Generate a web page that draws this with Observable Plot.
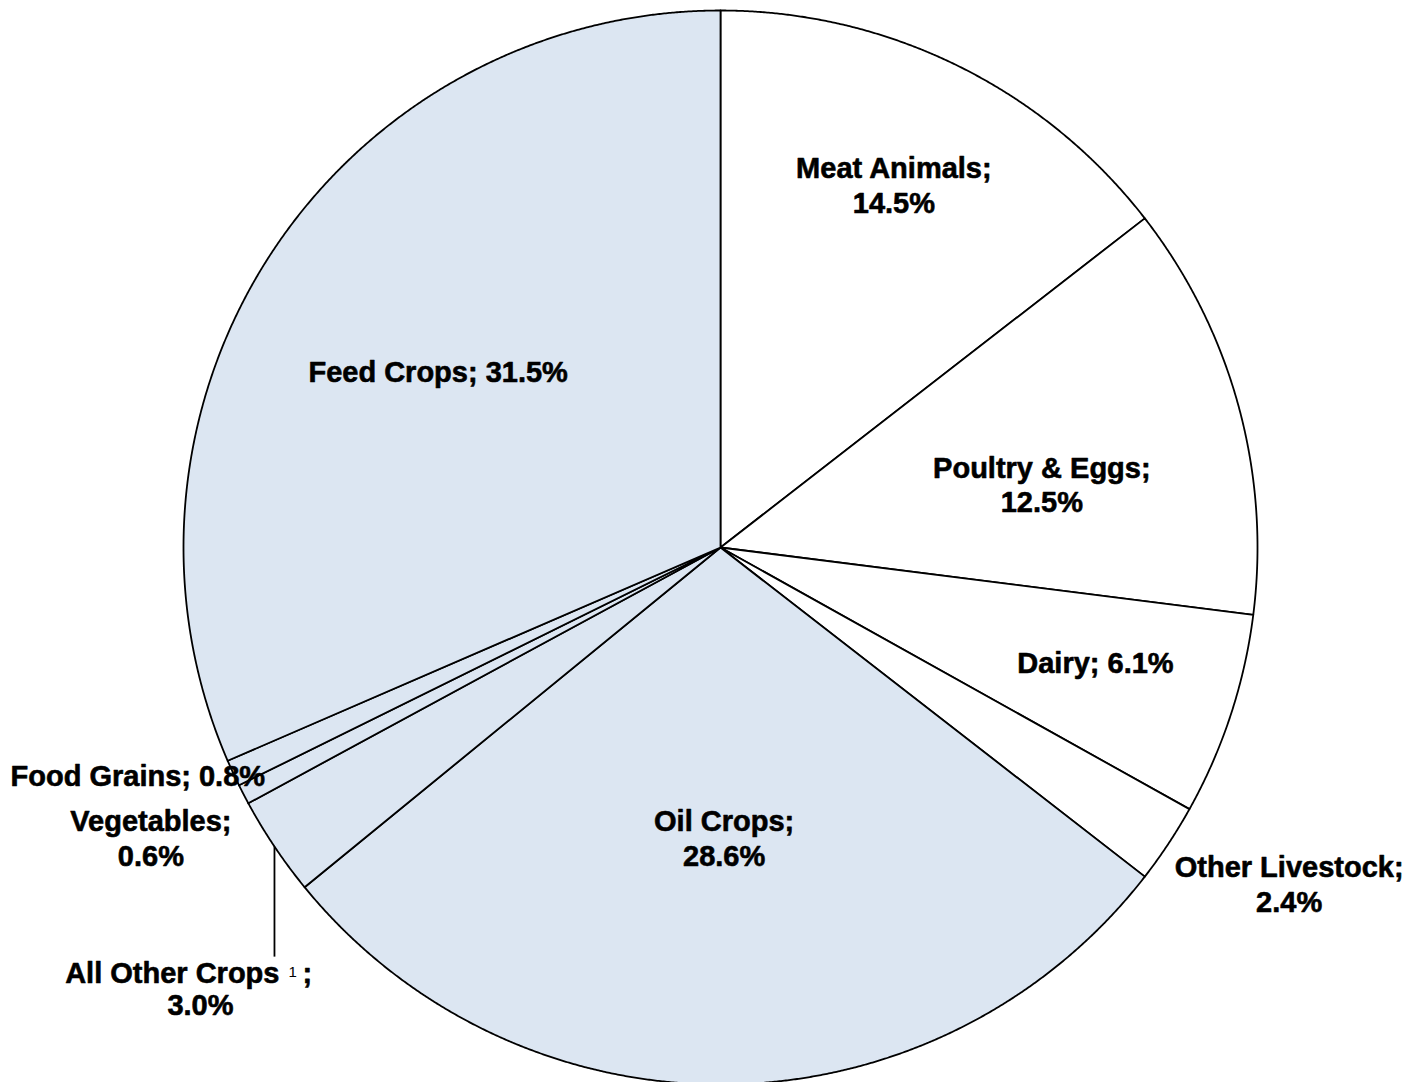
<!DOCTYPE html>
<html><head><meta charset="utf-8">
<script src="https://cdn.jsdelivr.net/npm/d3@7"></script>
<script src="https://cdn.jsdelivr.net/npm/@observablehq/plot@0.6"></script>
<style>body{margin:0;background:#fff;overflow:hidden;} svg text{font-family:"Liberation Sans", Arial, sans-serif;}</style>
</head><body><div id="chart"></div>
<script>
// ---- data ----
const categories = ["Meat Animals","Poultry & Eggs","Dairy","Other Livestock","Oil Crops","All Other Crops","Vegetables","Food Grains","Feed Crops"];
const shares = [14.5,12.5,6.1,2.4,28.6,3.0,0.6,0.8,31.5];
const groups = ["Livestock","Livestock","Livestock","Livestock","Crops","Crops","Crops","Crops","Crops"];
const groupColors = {Livestock:"#ffffff", Crops:"#dce6f2"};
const twoLine = [true,true,false,true,true,true,true,false,false];
// label placement (polar): radius factor and angle shift in degrees
const labelRadius = [0.75,0.61,0.73,1.23,0.54,null,1.19,1.165,0.62];
const labelShift = [-0.6,4.1,-1.2,-2.9,0,0,0.4,3.5,-1.3];

// ---- geometry ----
const W = 1419, H = 1082, CX = 720, CY = 547, R = 537;
const xDomain = [(0 - CX) / R, (W - CX) / R];
const yDomain = [(CY - H) / R, (CY - 0) / R];

const arcs = d3.pie().sort(null).value(d => d)(shares);
const polys = [];
arcs.forEach((a, i) => {
  const name = categories[i];
  const color = groupColors[groups[i]];
  polys.push({name, color, x: 0, y: 0});
  const n = Math.max(2, Math.ceil((a.endAngle - a.startAngle) / 0.003));
  for (let k = 0; k <= n; k++) {
    const t = a.startAngle + (a.endAngle - a.startAngle) * k / n;
    polys.push({name, color, x: Math.sin(t), y: Math.cos(t)});
  }
  polys.push({name, color, x: 0, y: 0});
});

const labels = [];
arcs.forEach((a, i) => {
  if (labelRadius[i] == null) return;
  const mid = (a.startAngle + a.endAngle) / 2 + labelShift[i] * Math.PI / 180;
  const r = labelRadius[i];
  const text = categories[i] + ";" + (twoLine[i] ? "\n" : " ") + shares[i].toFixed(1) + "%";
  labels.push({x: r * Math.sin(mid), y: r * Math.cos(mid), text});
});

// leader line for All Other Crops
const ai = categories.indexOf("All Other Crops");
const am = (arcs[ai].startAngle + arcs[ai].endAngle) / 2;
const lx = Math.sin(am), ly = Math.cos(am);
const leader = [{x1: lx, y1: ly, x2: lx, y2: ly - 0.205}];
const leaderEnd = [{x: lx, y: ly - 0.205}];

const font = "Liberation Sans";
const tOpts = {fontFamily: font, fill: "black", lineAnchor: "middle"};
const bold = {fontWeight: "bold", fontSize: 29, stroke: "black", strokeWidth: 0.6};

const chart = Plot.plot({
  width: W, height: H, margin: 0,
  x: {domain: xDomain, axis: null},
  y: {domain: yDomain, axis: null},
  color: {type: "identity"},
  style: {background: "#fff"},
  marks: [
    Plot.line(polys, {x: "x", y: "y", z: "name", fill: "color", stroke: "black", strokeWidth: 1.8, strokeLinejoin: "round", curve: "linear"}),
    Plot.link(leader, {x1: "x1", y1: "y1", x2: "x2", y2: "y2", stroke: "black", strokeWidth: 1.8}),
    Plot.text(labels, {...tOpts, ...bold, x: "x", y: "y", text: "text", lineHeight: 1.2}),
    Plot.text(leaderEnd, {...tOpts, ...bold, x: "x", y: "y", text: () => categories[ai], textAnchor: "end", dx: 5, dy: 17}),
    Plot.text(leaderEnd, {...tOpts, x: "x", y: "y", text: () => "1", textAnchor: "start", dx: 14, dy: 16, fontSize: 15}),
    Plot.text(leaderEnd, {...tOpts, ...bold, x: "x", y: "y", text: () => ";", textAnchor: "start", dx: 28, dy: 17}),
    Plot.text(leaderEnd, {...tOpts, ...bold, x: "x", y: "y", text: () => shares[ai].toFixed(1) + "%", textAnchor: "middle", dx: -74, dy: 49})
  ]
});
document.getElementById("chart").append(chart);
</script>
</body></html>
